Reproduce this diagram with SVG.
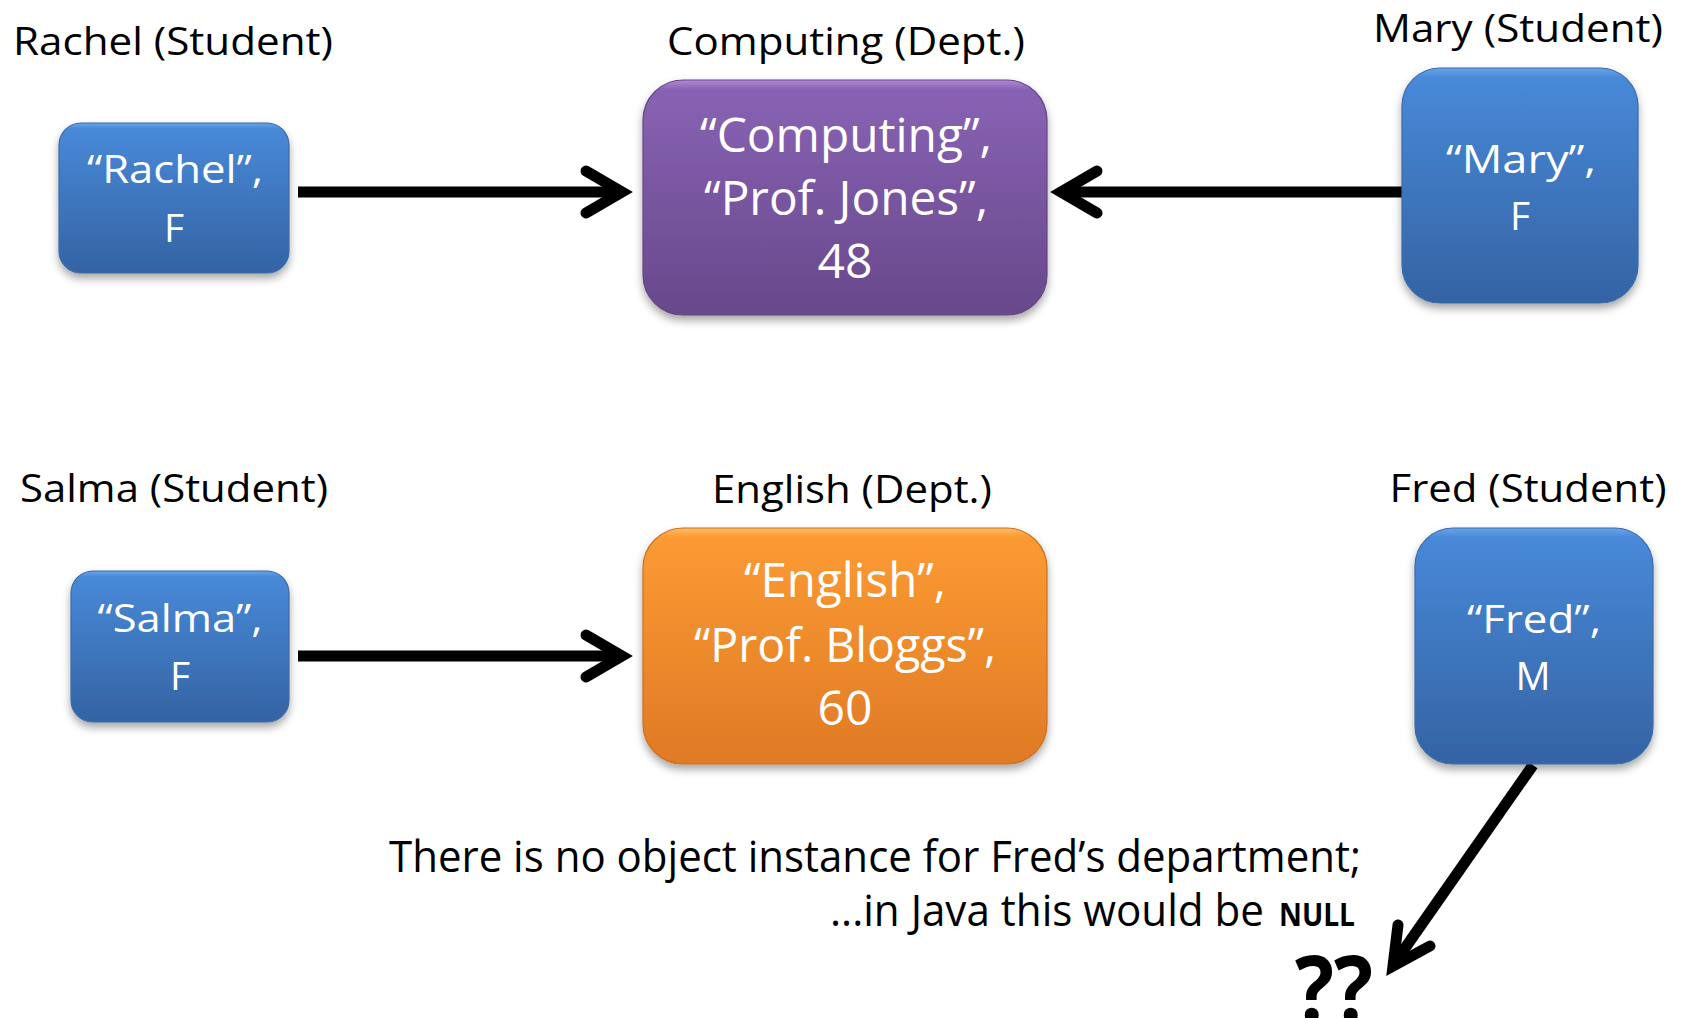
<svg xmlns="http://www.w3.org/2000/svg" width="1684" height="1018" viewBox="0 0 1684 1018">
<style>
.t{font-family:"Open Sans","Liberation Sans",sans-serif;font-size:39px;fill:#000}
.w{fill:#fff;text-anchor:middle}
.big{font-size:48px}
.note{font-size:44px}
.nul{font-size:32px;font-weight:bold}
.qq{font-size:92px;font-weight:bold}
.c{text-anchor:middle}
.blue{fill:url(#gBlue);stroke:#3a6aa8;stroke-width:1.2;filter:url(#sh)}
.purple{fill:url(#gPurple);stroke:#654585;stroke-width:1.2;filter:url(#sh)}
.orange{fill:url(#gOrange);stroke:#c87020;stroke-width:1.2;filter:url(#sh)}
.shaft{stroke:#000;stroke-width:11;fill:none;stroke-linecap:butt}
.head{stroke:#000;stroke-width:11;fill:none;stroke-linecap:round;stroke-linejoin:miter;stroke-miterlimit:10}
</style>
<defs>
<linearGradient id="gBlue" x1="0" y1="0" x2="0" y2="1">
<stop offset="0" stop-color="#6aa4ea"/>
<stop offset="0.04" stop-color="#4889d8"/>
<stop offset="1" stop-color="#3463a3"/>
</linearGradient>
<linearGradient id="gPurple" x1="0" y1="0" x2="0" y2="1">
<stop offset="0" stop-color="#b08ad8"/>
<stop offset="0.04" stop-color="#8862b4"/>
<stop offset="1" stop-color="#68488a"/>
</linearGradient>
<linearGradient id="gOrange" x1="0" y1="0" x2="0" y2="1">
<stop offset="0" stop-color="#ffbb66"/>
<stop offset="0.04" stop-color="#fb9a32"/>
<stop offset="1" stop-color="#df7a26"/>
</linearGradient>
<filter id="sh" x="-10%" y="-10%" width="120%" height="130%">
<feDropShadow dx="0" dy="5" stdDeviation="4" flood-color="#000" flood-opacity="0.35"/>
</filter>
</defs>

<g id="connectors">
<line class="shaft" x1="298" y1="192" x2="616" y2="192"/>
<polyline class="head" points="586,171 622,192 586,213"/>
<line class="shaft" x1="1402" y1="192" x2="1067" y2="192"/>
<polyline class="head" points="1097,171 1061,192 1097,213"/>
<line class="shaft" x1="298" y1="656" x2="616" y2="656"/>
<polyline class="head" points="586,635 622,656 586,677"/>
<line class="shaft" x1="1533" y1="765" x2="1396" y2="961"/>
<polyline class="head" points="1398,925 1393,966 1430,946"/>
</g>

<g id="rachel">
<text class="t c" x="173" y="55" textLength="320" lengthAdjust="spacingAndGlyphs">Rachel (Student)</text>
<rect class="blue" x="59" y="123" width="230" height="150" rx="22"/>
<text class="t w" x="175" y="183" textLength="176" lengthAdjust="spacingAndGlyphs">“Rachel”,</text>
<text class="t w" x="174" y="242">F</text>
</g>

<g id="computing">
<text class="t c" x="846" y="55" textLength="358" lengthAdjust="spacingAndGlyphs">Computing (Dept.)</text>
<rect class="purple" x="643" y="80" width="404" height="235" rx="40"/>
<text class="t w big" x="846" y="152" textLength="292" lengthAdjust="spacingAndGlyphs">“Computing”,</text>
<text class="t w big" x="846" y="215" textLength="284" lengthAdjust="spacingAndGlyphs">“Prof. Jones”,</text>
<text class="t w big" x="845" y="278">48</text>
</g>

<g id="mary">
<text class="t c" x="1518" y="42" textLength="290" lengthAdjust="spacingAndGlyphs">Mary (Student)</text>
<rect class="blue" x="1402" y="68" width="236" height="235" rx="38"/>
<text class="t w" x="1521" y="173" textLength="150" lengthAdjust="spacingAndGlyphs">“Mary”,</text>
<text class="t w" x="1520" y="230">F</text>
</g>

<g id="salma">
<text class="t c" x="174" y="502" textLength="308" lengthAdjust="spacingAndGlyphs">Salma (Student)</text>
<rect class="blue" x="71" y="571" width="218" height="151" rx="22"/>
<text class="t w" x="180" y="632" textLength="165" lengthAdjust="spacingAndGlyphs">“Salma”,</text>
<text class="t w" x="180" y="690">F</text>
</g>

<g id="english">
<text class="t c" x="852" y="503" textLength="280" lengthAdjust="spacingAndGlyphs">English (Dept.)</text>
<rect class="orange" x="643" y="528" width="404" height="236" rx="40"/>
<text class="t w big" x="845" y="597" textLength="202" lengthAdjust="spacingAndGlyphs">“English”,</text>
<text class="t w big" x="845" y="662" textLength="302" lengthAdjust="spacingAndGlyphs">“Prof. Bloggs”,</text>
<text class="t w big" x="845" y="725">60</text>
</g>

<g id="fred">
<text class="t c" x="1528" y="502" textLength="277" lengthAdjust="spacingAndGlyphs">Fred (Student)</text>
<rect class="blue" x="1415" y="528" width="238" height="236" rx="38"/>
<text class="t w" x="1534" y="633" textLength="134" lengthAdjust="spacingAndGlyphs">“Fred”,</text>
<text class="t w" x="1533" y="690">M</text>
</g>

<g id="note">
<text class="t note" x="389" y="872" textLength="972" lengthAdjust="spacingAndGlyphs">There is no object instance for Fred’s department;</text>
<text class="t note" x="830" y="926" textLength="434" lengthAdjust="spacingAndGlyphs">...in Java this would be</text>
<text class="t nul" x="1279" y="926" textLength="76" lengthAdjust="spacingAndGlyphs">NULL</text>
</g>

<g id="null">
<text class="t qq" x="1295" y="1022" textLength="78" lengthAdjust="spacingAndGlyphs">??</text>
</g>
</svg>
